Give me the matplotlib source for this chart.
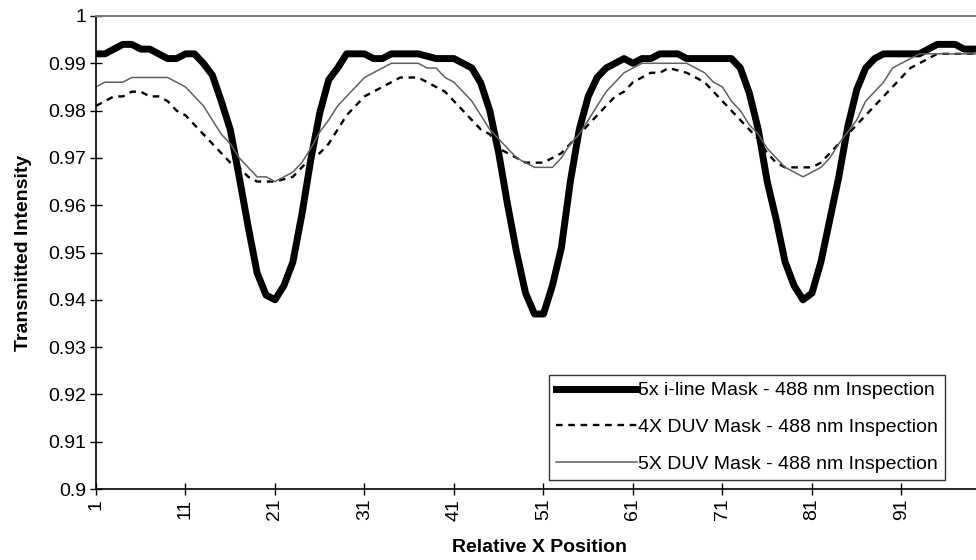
import matplotlib
matplotlib.use("Agg")
import matplotlib.pyplot as plt
from matplotlib.ticker import FuncFormatter

plt.rcParams["font.family"] = ["Liberation Sans", "DejaVu Sans"]

# relative x positions 1..100
x_pos = list(range(1, 101))

iline_5x = [
    0.992, 0.992, 0.993, 0.994, 0.994, 0.993, 0.993, 0.992, 0.991, 0.991,
    0.992, 0.992, 0.990, 0.9875, 0.982, 0.976, 0.966, 0.9555, 0.9457, 0.941,
    0.940, 0.943, 0.948, 0.958, 0.9696, 0.9795, 0.9865, 0.989, 0.992, 0.992,
    0.992, 0.991, 0.991, 0.992, 0.992, 0.992, 0.992, 0.9915, 0.991, 0.991,
    0.991, 0.990, 0.989, 0.9858, 0.980, 0.971, 0.960, 0.950, 0.9414, 0.937,
    0.937, 0.943, 0.951, 0.965, 0.976, 0.983, 0.987, 0.989, 0.990, 0.991,
    0.990, 0.991, 0.991, 0.992, 0.992, 0.992, 0.991, 0.991, 0.991, 0.991,
    0.991, 0.991, 0.989, 0.9837, 0.976, 0.965, 0.957, 0.948, 0.943, 0.940,
    0.9414, 0.948, 0.957, 0.966, 0.9766, 0.9844, 0.989, 0.991, 0.992, 0.992,
    0.992, 0.992, 0.992, 0.993, 0.994, 0.994, 0.994, 0.993, 0.993, 0.993,
]

duv_4x = [
    0.981, 0.982, 0.983, 0.983, 0.984, 0.984, 0.983, 0.983, 0.982, 0.980,
    0.979, 0.977, 0.975, 0.973, 0.971, 0.969, 0.968, 0.966, 0.965, 0.965,
    0.965, 0.9655, 0.966, 0.968, 0.970, 0.971, 0.973, 0.976, 0.979, 0.981,
    0.983, 0.984, 0.985, 0.986, 0.987, 0.987, 0.987, 0.986, 0.985, 0.984,
    0.982, 0.980, 0.978, 0.976, 0.975, 0.972, 0.971, 0.970, 0.969, 0.969,
    0.969, 0.970, 0.971, 0.973, 0.975, 0.977, 0.979, 0.981, 0.983, 0.984,
    0.986, 0.987, 0.988, 0.988, 0.989, 0.9885, 0.988, 0.987, 0.986, 0.984,
    0.982, 0.980, 0.978, 0.976, 0.974, 0.971, 0.969, 0.968, 0.968, 0.968,
    0.968, 0.969, 0.971, 0.973, 0.975, 0.977, 0.979, 0.981, 0.983, 0.985,
    0.987, 0.989, 0.990, 0.991, 0.992, 0.992, 0.992, 0.992, 0.992, 0.992,
]

duv_5x = [
    0.985, 0.986, 0.986, 0.986, 0.987, 0.987, 0.987, 0.987, 0.987, 0.986,
    0.985, 0.983, 0.981, 0.978, 0.975, 0.973, 0.970, 0.968, 0.966, 0.966,
    0.965, 0.966, 0.967, 0.969, 0.972, 0.9755, 0.978, 0.981, 0.983, 0.985,
    0.987, 0.988, 0.989, 0.990, 0.990, 0.990, 0.990, 0.989, 0.989, 0.987,
    0.986, 0.984, 0.982, 0.979, 0.976, 0.974, 0.972, 0.970, 0.969, 0.968,
    0.968, 0.968, 0.970, 0.973, 0.975, 0.978, 0.981, 0.984, 0.986, 0.988,
    0.989, 0.990, 0.990, 0.990, 0.990, 0.990, 0.990, 0.989, 0.988, 0.986,
    0.985, 0.982, 0.980, 0.977, 0.975, 0.972, 0.970, 0.968, 0.967, 0.966,
    0.967, 0.968, 0.970, 0.973, 0.9755, 0.978, 0.982, 0.984, 0.986, 0.989,
    0.990, 0.991, 0.992, 0.992, 0.992, 0.992, 0.992, 0.992, 0.992, 0.992,
]

labels = [
    "5x i-line Mask - 488 nm Inspection",
    "4X DUV Mask - 488 nm Inspection",
    "5X DUV Mask - 488 nm Inspection",
]

fig = plt.figure(figsize=(9.76, 5.6), dpi=100)
ax = fig.add_axes([96 / 976, 1 - 489 / 560, 886 / 976, 473 / 560])

ax.plot(x_pos, iline_5x, color="black", lw=5.0, solid_joinstyle="round", label=labels[0])
ax.plot(x_pos, duv_4x, color="black", lw=1.7, linestyle=(0, (2.8, 2.4)), label=labels[1])
ax.plot(x_pos, duv_5x, color="#606060", lw=1.1, label=labels[2])

ax.set_xlim(1, 100)
ax.set_ylim(0.9, 1.0)
ax.set_xticks(list(range(1, 100, 10)))
ax.set_yticks([0.9 + 0.01 * k for k in range(11)])
ax.yaxis.set_major_formatter(FuncFormatter(lambda v, p: "%g" % round(v, 3)))
ax.tick_params(axis="both", direction="inout", length=8, width=1, labelsize=14, color="black")
ax.tick_params(axis="x", labelrotation=90, pad=3)
ax.tick_params(axis="y", pad=3)

for side in ["left", "bottom"]:
    ax.spines[side].set_color("black")
    ax.spines[side].set_linewidth(1.2)
ax.spines["top"].set_color("#777777")
ax.spines["top"].set_linewidth(1.4)
ax.spines["right"].set_visible(False)

ax.set_xlabel("Relative X Position", fontsize=14, fontweight="bold", labelpad=13)
ax.set_ylabel("Transmitted Intensity", fontsize=14, fontweight="bold", labelpad=12)

leg = ax.legend(loc="upper left", bbox_to_anchor=(549 / 976, 1 - 375 / 560),
                bbox_transform=fig.transFigure, fontsize=14, frameon=True,
                fancybox=False, handlelength=4.2, handletextpad=0.05,
                labelspacing=0.98, borderpad=0.35, borderaxespad=0)
leg.get_frame().set_edgecolor("black")
leg.get_frame().set_linewidth(1.0)

plt.savefig("out.png", dpi=100)
